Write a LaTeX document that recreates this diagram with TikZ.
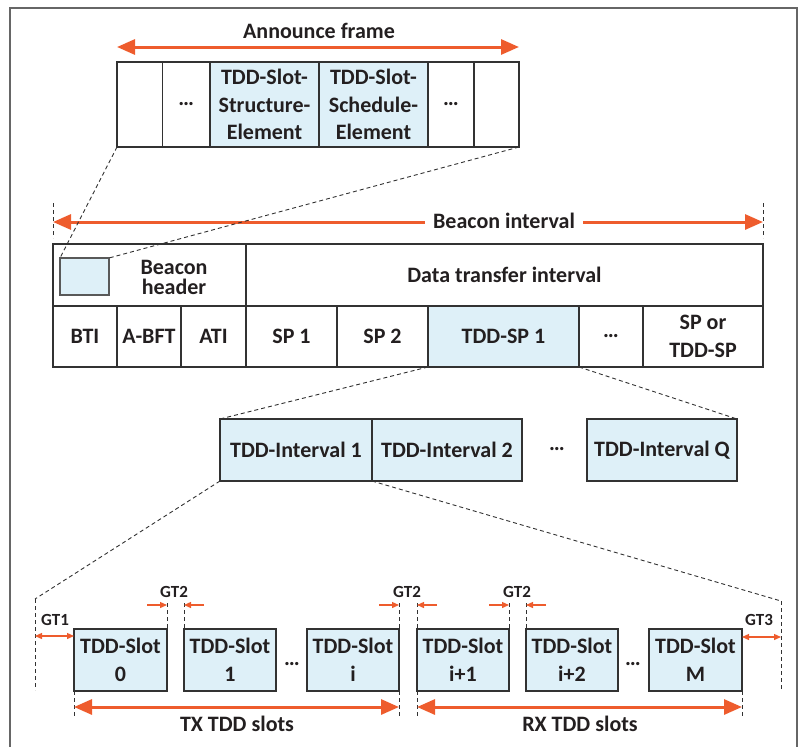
\documentclass[tikz,border=0pt]{standalone}
\usepackage{fontspec}
\setmainfont{Carlito}
\usetikzlibrary{arrows.meta}
\definecolor{orng}{RGB}{238,92,45}
\definecolor{lblue}{RGB}{222,240,248}
\definecolor{boxline}{RGB}{50,50,50}
\definecolor{txt}{RGB}{35,31,32}
\newcommand\lbl{\fontsize{22}{27.5}\selectfont\bfseries}
\newcommand\smlbl{\fontsize{17}{20}\selectfont\bfseries}
\begin{document}
\begin{tikzpicture}[x=1pt,y=-1pt,
  cell/.style={draw=boxline, line width=1.1pt, inner sep=0pt, outer sep=0pt, anchor=north west, align=center, font=\lbl, text=txt},
  bcell/.style={cell, fill=lblue},
  lab/.style={font=\lbl, text=txt, inner sep=1pt},
  smlab/.style={font=\smlbl, text=txt, inner sep=1pt},
  dots/.style={font=\lbl, text=txt, inner sep=0pt},
  conn/.style={draw=boxline, line width=0.9pt, dash pattern=on 4pt off 3pt},
  bigarrow/.style={draw=orng, line width=3pt, {Triangle[length=18pt,width=15pt]}-{Triangle[length=18pt,width=15pt]}},
  smarrow/.style={draw=orng, line width=1.3pt, -{Triangle[length=7pt,width=6pt]}},
  smdarrow/.style={draw=orng, line width=1.3pt, {Triangle[length=7pt,width=6pt]}-{Triangle[length=7pt,width=6pt]}}
]
\useasboundingbox (0,0) rectangle (806,747);
\draw[draw=gray!80!black, line width=1.3pt] (10,8) rectangle (797,770);

% Announce frame
\node[cell, minimum width=45.5pt, minimum height=85pt] (af1) at (117,62) {};
\node[cell, minimum width=47.5pt, minimum height=85pt] (af2) at (162.5,62) {…};
\node[bcell, minimum width=109pt, minimum height=85pt] (af3) at (210,62) {TDD-Slot-\\Structure-\\Element};
\node[bcell, minimum width=109pt, minimum height=85pt] (af4) at (319,62) {TDD-Slot-\\Schedule-\\Element};
\node[cell, minimum width=46pt, minimum height=85pt] (af5) at (428,62) {…};
\node[cell, minimum width=45pt, minimum height=85pt] (af6) at (474,62) {};
\coordinate (afl) at (117,47);
\coordinate (afr) at (519,47);
\draw[bigarrow] (afl) -- (afr);
\node[lab] (aflab) at (319,31) {Announce frame};

% Beacon interval
\coordinate (bit1) at (53,203);
\coordinate (bib1) at (53,238);
\coordinate (bit2) at (763,203);
\coordinate (bib2) at (763,238);
\draw[conn] (bit1) -- (bib1);
\draw[conn] (bit2) -- (bib2);
\coordinate (bil) at (53,222);
\coordinate (bir) at (763,222);
\draw[bigarrow] (bil) -- (bir);
\node[lab, fill=white, inner xsep=8pt] (bilab) at (504,221) {Beacon interval};

\node[cell, minimum width=193pt, minimum height=62pt] (bh) at (53,244) {};
\node[lab, align=center, font=\fontsize{22}{20}\selectfont\bfseries] (bhlab) at (174,277) {Beacon\\header};
\node[bcell, minimum width=49pt, minimum height=37pt, draw=gray!70!black] (bsq) at (60,258) {};
\node[cell, minimum width=517pt, minimum height=62pt] (dti) at (246,244) {Data transfer interval};

\node[cell, minimum width=64pt, minimum height=61pt] (bti) at (53,306) {BTI};
\node[cell, minimum width=64pt, minimum height=61pt] (abft) at (117,306) {A-BFT};
\node[cell, minimum width=65pt, minimum height=61pt] (ati) at (181,306) {ATI};
\node[cell, minimum width=91pt, minimum height=61pt] (sp1) at (246,306) {SP 1};
\node[cell, minimum width=91pt, minimum height=61pt] (sp2) at (337,306) {SP 2};
\node[bcell, minimum width=151pt, minimum height=61pt] (tddsp) at (428,306) {TDD-SP 1};
\node[cell, minimum width=64pt, minimum height=61pt] (bdots) at (579,306) {…};
\node[cell, minimum width=120pt, minimum height=61pt] (sptdd) at (643,306) {SP or\\TDD-SP};

% connectors announce -> beacon header
\draw[conn] (af1.south west) -- (bsq.north west);
\draw[conn] (af6.south east) -- (bsq.north east);

% TDD intervals
\node[bcell, minimum width=152pt, minimum height=62pt] (ti1) at (220,419) {TDD-Interval 1};
\node[bcell, minimum width=150pt, minimum height=62pt] (ti2) at (372,419) {TDD-Interval 2};
\node[dots] (tidots) at (557,449) {…};
\node[bcell, minimum width=150pt, minimum height=62pt] (tiq) at (587,419) {TDD-Interval Q};
\draw[conn] (tddsp.south west) -- (ti1.north west);
\draw[conn] (tddsp.south east) -- (tiq.north east);

% TDD slots
\node[bcell, minimum width=93pt, minimum height=62pt] (s0) at (74,629) {TDD-Slot\\0};
\node[bcell, minimum width=92pt, minimum height=62pt] (s1) at (184,629) {TDD-Slot\\1};
\node[dots] (sdots1) at (292,664) {…};
\node[bcell, minimum width=92pt, minimum height=62pt] (si) at (307,629) {TDD-Slot\\i};
\node[bcell, minimum width=92pt, minimum height=62pt] (si1) at (417,629) {TDD-Slot\\i+1};
\node[bcell, minimum width=92pt, minimum height=62pt] (si2) at (526,629) {TDD-Slot\\i+2};
\node[dots] (sdots2) at (633,664) {…};
\node[bcell, minimum width=93pt, minimum height=62pt] (sm) at (649,629) {TDD-Slot\\M};

\coordinate (gt1t) at (35,599);
\coordinate (gt1b) at (35,690);
\coordinate (gt3t) at (781,601);
\coordinate (gt3b) at (781,691);
\draw[conn] (ti1.south west) -- (gt1t);
\draw[conn] (ti1.south east) -- (gt3t);
\draw[conn] (gt1t) -- (gt1b);
\draw[conn] (gt3t) -- (gt3b);

% GT2 ticks
\coordinate (g2a) at (167,603);
\coordinate (g2b) at (184,603);
\coordinate (g2c) at (399,603);
\coordinate (g2d) at (417,603);
\coordinate (g2e) at (509,603);
\coordinate (g2f) at (526,603);
\draw[conn] (g2a) -- (s0.north east);
\draw[conn] (g2b) -- (s1.north west);
\draw[conn] (g2c) -- (si.north east);
\draw[conn] (g2d) -- (si1.north west);
\draw[conn] (g2e) -- (si1.north east);
\draw[conn] (g2f) -- (si2.north west);

% bottom ticks
\coordinate (tb1) at (74,717);
\coordinate (tb2) at (399,717);
\coordinate (tb3) at (417,717);
\coordinate (tb4) at (742,717);
\draw[conn] (s0.south west) -- (tb1);
\draw[conn] (si.south east) -- (tb2);
\draw[conn] (si1.south west) -- (tb3);
\draw[conn] (sm.south east) -- (tb4);

% GT arrows
\coordinate (gt1a) at (35,636);
\coordinate (gt1z) at (74,636);
\draw[smdarrow] (gt1a) -- (gt1z);
\node[smlab] (gt1lab) at (55,620) {GT1};
\coordinate (gt3a) at (742,637);
\coordinate (gt3z) at (781,637);
\draw[smdarrow] (gt3a) -- (gt3z);
\node[smlab] (gt3lab) at (759,620) {GT3};

\coordinate (a1s) at (147,605); \coordinate (a1e) at (167,605);
\coordinate (a2s) at (204,605); \coordinate (a2e) at (184,605);
\draw[smarrow] (a1s) -- (a1e);
\draw[smarrow] (a2s) -- (a2e);
\node[smlab] (gt2lab1) at (174,592) {GT2};
\coordinate (a3s) at (379,605); \coordinate (a3e) at (399,605);
\coordinate (a4s) at (437,605); \coordinate (a4e) at (417,605);
\draw[smarrow] (a3s) -- (a3e);
\draw[smarrow] (a4s) -- (a4e);
\node[smlab] (gt2lab2) at (407,592) {GT2};
\coordinate (a5s) at (489,605); \coordinate (a5e) at (509,605);
\coordinate (a6s) at (546,605); \coordinate (a6e) at (526,605);
\draw[smarrow] (a5s) -- (a5e);
\draw[smarrow] (a6s) -- (a6e);
\node[smlab] (gt2lab3) at (517,592) {GT2};

% TX / RX
\coordinate (txl) at (74,707); \coordinate (txr) at (399,707);
\draw[bigarrow] (txl) -- (txr);
\node[lab] (txlab) at (237,724) {TX TDD slots};
\coordinate (rxl) at (417,707); \coordinate (rxr) at (742,707);
\draw[bigarrow] (rxl) -- (rxr);
\node[lab] (rxlab) at (580,724) {RX TDD slots};
\end{tikzpicture}
\end{document}
